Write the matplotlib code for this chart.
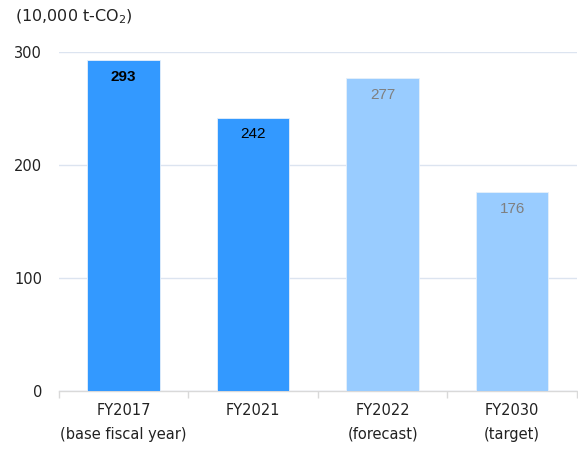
import numpy as np
import matplotlib.pyplot as plt

categories = ['FY2017\n(base fiscal year)', 'FY2021', 'FY2022\n(forecast)', 'FY2030\n(target)']
values = [293, 242, 277, 176]
bar_colors = ['#3399FF', '#3399FF', '#99CCFF', '#99CCFF']
label_colors = ['#000000', '#000000', '#7F7F7F', '#7F7F7F']
label_weights = ['bold', 'normal', 'normal', 'normal']
y_ticks = [0, 100, 200, 300]

fig = plt.figure(figsize=(5.78, 4.5), dpi=100)
ax = fig.add_axes([0.102, 0.132, 0.896, 0.752])

x = np.arange(len(categories))
bars = ax.bar(x, values, width=0.56, color=bar_colors, edgecolor='#E6F0FA',
              linewidth=0.6, zorder=3)

for b, v, c, w in zip(bars, values, label_colors, label_weights):
    ax.annotate(str(v), (b.get_x() + b.get_width() / 2, v), xytext=(0, -12),
                textcoords='offset points', ha='center', va='center',
                fontsize=11, color=c, fontweight=w, family='Liberation Sans',
                zorder=4)

ax.set_xlim(-0.5, len(categories) - 0.5)
ax.set_ylim(0, 300)
ax.set_yticks(y_ticks)
ax.yaxis.grid(True, color='#DCE4F0', linewidth=1, zorder=0)
ax.tick_params(axis='y', length=0, pad=12, labelsize=10.5, labelcolor='#222222')

ax.set_xticks(x)
ax.set_xticklabels(categories, fontsize=10.5, color='#222222', linespacing=1.7)
ax.set_xticks(np.arange(len(categories) + 1) - 0.5, minor=True)
ax.tick_params(axis='x', which='major', length=0, pad=9)
ax.tick_params(axis='x', which='minor', length=5, color='#D9D9D9', width=1)

for s in ['top', 'right', 'left']:
    ax.spines[s].set_visible(False)
ax.spines['bottom'].set_color('#D9D9D9')
ax.spines['bottom'].set_linewidth(1)

fig.text(0.026, 0.962, '(10,000 t-CO$_2$)', fontsize=11.5, color='#222222',
         va='center', ha='left')

fig.savefig('out.png', dpi=100)
